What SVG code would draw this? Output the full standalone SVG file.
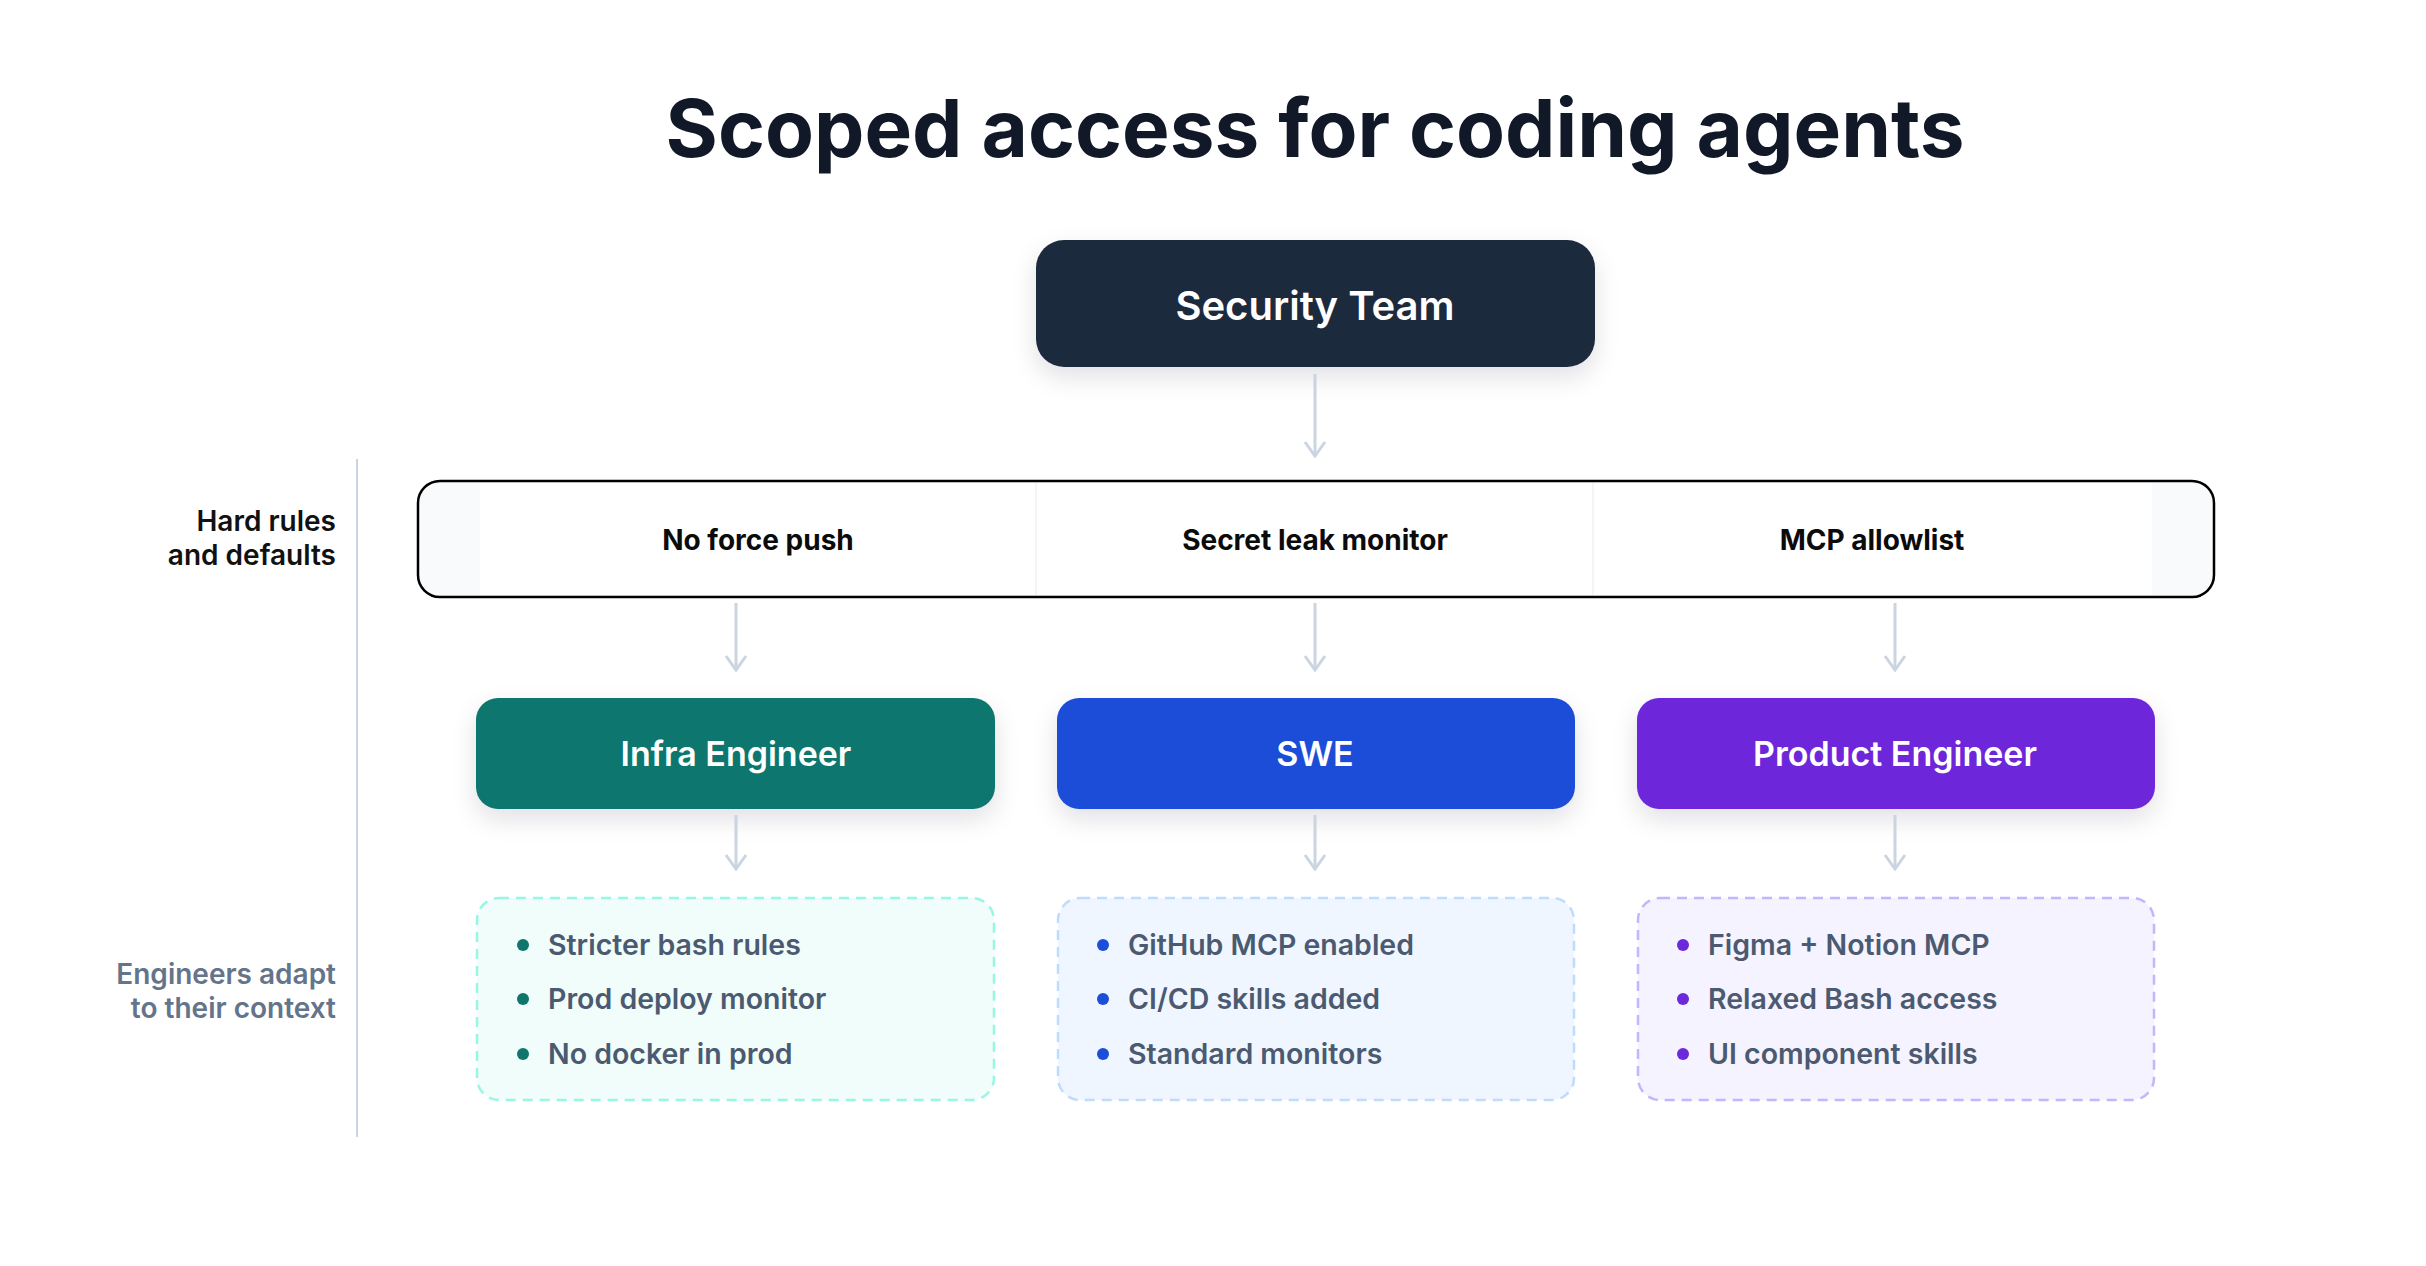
<svg xmlns="http://www.w3.org/2000/svg" width="2426" height="1266" viewBox="0 0 2426 1266">
<style>
text{font-family:Inter,"Liberation Sans",sans-serif}
.role{font-size:34px;font-weight:600;fill:#fff;text-anchor:middle}
.rule{font-size:28px;font-weight:700;fill:#0b0b0b;text-anchor:middle}
.item{font-size:28.5px;font-weight:600;fill:#4b5a70}
.side{font-size:28px;font-weight:600;text-anchor:end}
.conn{stroke:#cbd5e1;stroke-width:3;fill:none}
</style>
<defs>
<marker id="ah" viewBox="0 0 20 24" refX="18" refY="12" markerWidth="20" markerHeight="24" markerUnits="userSpaceOnUse" orient="auto"><path d="M4 2 L18 12 L4 22" fill="none" stroke="#cbd5e1" stroke-width="3"/></marker>
<filter id="sh" x="-20%" y="-30%" width="140%" height="180%"><feDropShadow dx="0" dy="10" stdDeviation="12" flood-color="#0f172a" flood-opacity="0.12"/></filter>
</defs>
<rect width="2426" height="1266" fill="#fff"/>
<text x="1315" y="157" text-anchor="middle" font-size="80" font-weight="700" fill="#111827">Scoped access for coding agents</text>
<g id="side-labels">
<line x1="357" y1="459" x2="357" y2="1137" stroke="#cbd5e1" stroke-width="2"/>
<text class="side" x="336" y="531" fill="#111">Hard rules</text>
<text class="side" x="336" y="565" fill="#111">and defaults</text>
<text class="side" x="336" y="984" fill="#64748b">Engineers adapt</text>
<text class="side" x="336" y="1018" fill="#64748b">to their context</text>
</g>
<g id="security-team">
<rect x="1036" y="240" width="559" height="127" rx="28" fill="#1f2a3d" filter="url(#sh)"/>
<text x="1315" y="320" class="role" style="font-size:40px">Security Team</text>
</g>
<g id="hard-rules">
<rect x="418" y="481" width="1796" height="116" rx="22" fill="#f8fafc"/>
<rect x="480" y="483" width="1672" height="112" fill="#fff"/>
<line x1="1036" y1="483" x2="1036" y2="595" stroke="#f1f5f9" stroke-width="2"/>
<line x1="1593" y1="483" x2="1593" y2="595" stroke="#f1f5f9" stroke-width="2"/>
<rect x="418" y="481" width="1796" height="116" rx="22" fill="none" stroke="#000" stroke-width="2.5"/>
<text class="rule" x="758" y="550">No force push</text>
<text class="rule" x="1315" y="550">Secret leak monitor</text>
<text class="rule" x="1872" y="550">MCP allowlist</text>
</g>
<g id="infra">
<rect x="476" y="698" width="519" height="111" rx="22" fill="#0f766e" filter="url(#sh)"/>
<text class="role" x="736" y="766">Infra Engineer</text>
</g>
<g id="swe">
<rect x="1057" y="698" width="518" height="111" rx="22" fill="#1d4ed8" filter="url(#sh)"/>
<text class="role" x="1315" y="766">SWE</text>
</g>
<g id="product">
<rect x="1637" y="698" width="518" height="111" rx="22" fill="#6d28d9" filter="url(#sh)"/>
<text class="role" x="1895" y="766">Product Engineer</text>
</g>
<g id="infra-details">
<rect x="477" y="898" width="517" height="202" rx="22" fill="#f0fdfa" stroke="#99f6e4" stroke-width="2.5" stroke-dasharray="10 7"/>
<circle cx="523" cy="945" r="6" fill="#0f766e"/><circle cx="523" cy="999" r="6" fill="#0f766e"/><circle cx="523" cy="1054" r="6" fill="#0f766e"/>
<text class="item" x="548" y="955">Stricter bash rules</text>
<text class="item" x="548" y="1009">Prod deploy monitor</text>
<text class="item" x="548" y="1064">No docker in prod</text>
</g>
<g id="swe-details">
<rect x="1058" y="898" width="516" height="202" rx="22" fill="#eff6ff" stroke="#bfdbfe" stroke-width="2.5" stroke-dasharray="10 7"/>
<circle cx="1103" cy="945" r="6" fill="#1d4ed8"/><circle cx="1103" cy="999" r="6" fill="#1d4ed8"/><circle cx="1103" cy="1054" r="6" fill="#1d4ed8"/>
<text class="item" x="1128" y="955">GitHub MCP enabled</text>
<text class="item" x="1128" y="1009">CI/CD skills added</text>
<text class="item" x="1128" y="1064">Standard monitors</text>
</g>
<g id="product-details">
<rect x="1638" y="898" width="516" height="202" rx="22" fill="#f5f3ff" stroke="#c4b5fd" stroke-width="2.5" stroke-dasharray="10 7"/>
<circle cx="1683" cy="945" r="6" fill="#6d28d9"/><circle cx="1683" cy="999" r="6" fill="#6d28d9"/><circle cx="1683" cy="1054" r="6" fill="#6d28d9"/>
<text class="item" x="1708" y="955">Figma + Notion MCP</text>
<text class="item" x="1708" y="1009">Relaxed Bash access</text>
<text class="item" x="1708" y="1064">UI component skills</text>
</g>
<g id="connectors">
<line class="conn" x1="1315" y1="374" x2="1315" y2="456" marker-end="url(#ah)"/>
<line class="conn" x1="736" y1="603" x2="736" y2="670" marker-end="url(#ah)"/>
<line class="conn" x1="1315" y1="603" x2="1315" y2="670" marker-end="url(#ah)"/>
<line class="conn" x1="1895" y1="603" x2="1895" y2="670" marker-end="url(#ah)"/>
<line class="conn" x1="736" y1="815" x2="736" y2="869" marker-end="url(#ah)"/>
<line class="conn" x1="1315" y1="815" x2="1315" y2="869" marker-end="url(#ah)"/>
<line class="conn" x1="1895" y1="815" x2="1895" y2="869" marker-end="url(#ah)"/>
</g>
</svg>
